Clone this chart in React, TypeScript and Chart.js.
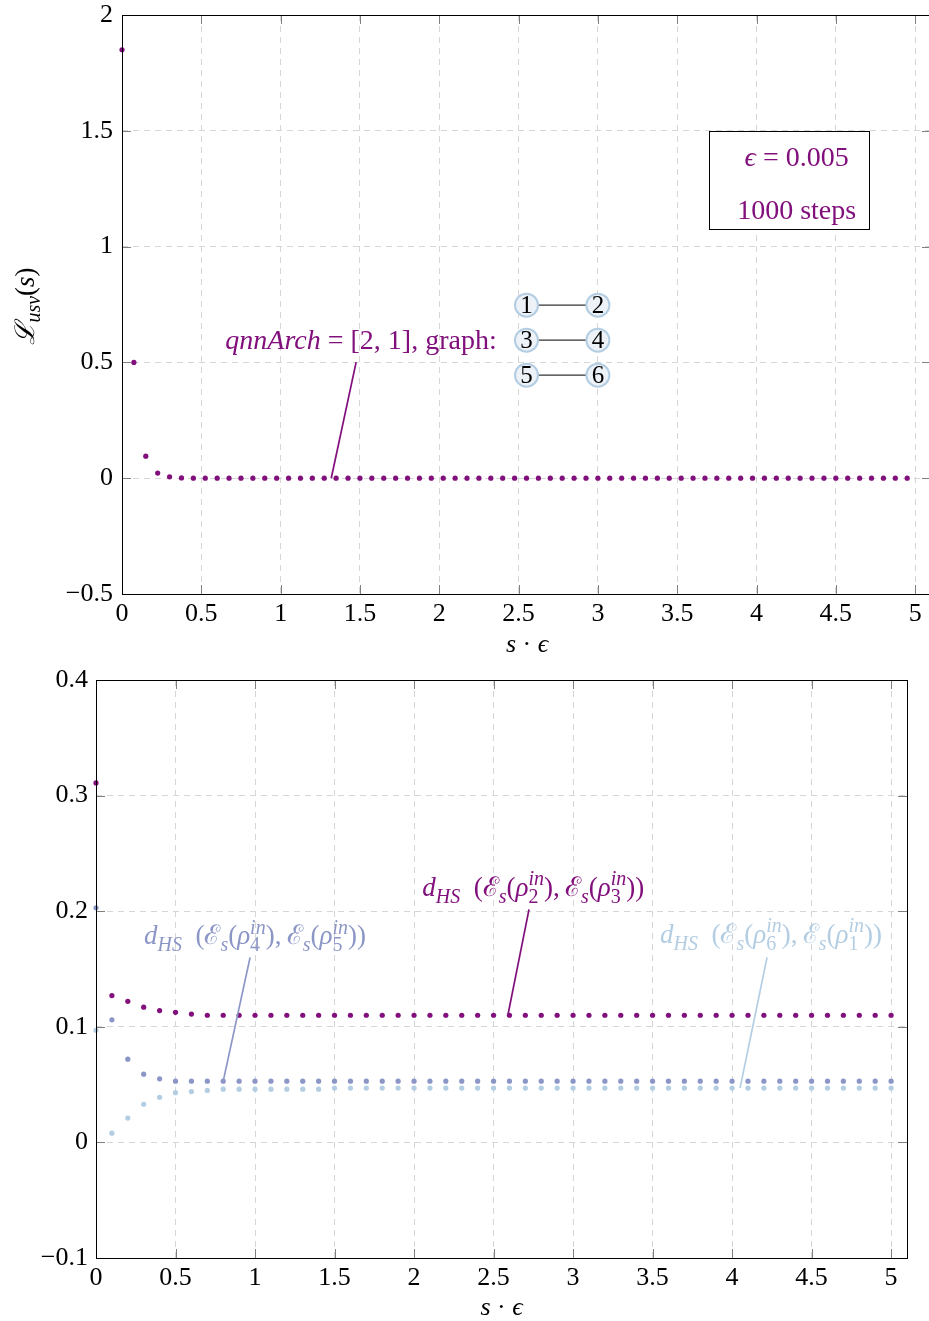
import { useEffect, useRef } from "react";
import { Chart, registerables } from "chart.js";
Chart.register(...registerables);

const PURPLE = "#810f7c";
const MIDBLUE = "#8c96c6";
const LIGHTBLUE = "#b3cde3";
const SERIF = '"Liberation Serif", "DejaVu Serif", serif';

// ---------- data ----------
const topSteps = [
  0, 0.075, 0.15, 0.225, 0.3, 0.375, 0.45, 0.525, 0.6, 0.675, 0.75, 0.825, 0.9, 0.975,
  1.05, 1.125, 1.2, 1.275, 1.35, 1.425, 1.5, 1.575, 1.65, 1.725, 1.8, 1.875, 1.95, 2.025,
  2.1, 2.175, 2.25, 2.325, 2.4, 2.475, 2.55, 2.625, 2.7, 2.775, 2.85, 2.925, 3.0, 3.075,
  3.15, 3.225, 3.3, 3.375, 3.45, 3.525, 3.6, 3.675, 3.75, 3.825, 3.9, 3.975, 4.05, 4.125,
  4.2, 4.275, 4.35, 4.425, 4.5, 4.575, 4.65, 4.725, 4.8, 4.875, 4.95,
];
const topLoss = [
  1.85, 0.5, 0.095, 0.022, 0.006, 0.001, 0, 0, 0, 0, 0, 0, 0, 0,
  0, 0, 0, 0, 0, 0, 0, 0, 0, 0, 0, 0, 0, 0,
  0, 0, 0, 0, 0, 0, 0, 0, 0, 0, 0, 0, 0, 0,
  0, 0, 0, 0, 0, 0, 0, 0, 0, 0, 0, 0, 0, 0,
  0, 0, 0, 0, 0, 0, 0, 0, 0, 0, 0,
];
const topYTicks = [-0.5, 0, 0.5, 1, 1.5, 2];
const xTicks = [0, 0.5, 1, 1.5, 2, 2.5, 3, 3.5, 4, 4.5, 5];

const bottomSteps = [
  0, 0.1, 0.2, 0.3, 0.4, 0.5, 0.6, 0.7, 0.8, 0.9, 1.0, 1.1, 1.2, 1.3, 1.4, 1.5, 1.6,
  1.7, 1.8, 1.9, 2.0, 2.1, 2.2, 2.3, 2.4, 2.5, 2.6, 2.7, 2.8, 2.9, 3.0, 3.1, 3.2, 3.3,
  3.4, 3.5, 3.6, 3.7, 3.8, 3.9, 4.0, 4.1, 4.2, 4.3, 4.4, 4.5, 4.6, 4.7, 4.8, 4.9, 5.0,
];
const dist23 = [
  0.311, 0.127, 0.122, 0.117, 0.114, 0.1125, 0.111, 0.11, 0.11, 0.11, 0.11, 0.11, 0.11,
  0.11, 0.11, 0.11, 0.11, 0.11, 0.11, 0.11, 0.11, 0.11, 0.11, 0.11, 0.11, 0.11, 0.11,
  0.11, 0.11, 0.11, 0.11, 0.11, 0.11, 0.11, 0.11, 0.11, 0.11, 0.11, 0.11, 0.11, 0.11,
  0.11, 0.11, 0.11, 0.11, 0.11, 0.11, 0.11, 0.11, 0.11, 0.11,
];
const dist45 = [
  0.203, 0.106, 0.072, 0.059, 0.055, 0.053, 0.053, 0.053, 0.053, 0.053, 0.053, 0.053, 0.053,
  0.053, 0.053, 0.053, 0.053, 0.053, 0.053, 0.053, 0.053, 0.053, 0.053, 0.053, 0.053, 0.053,
  0.053, 0.053, 0.053, 0.053, 0.053, 0.053, 0.053, 0.053, 0.053, 0.053, 0.053, 0.053, 0.053,
  0.053, 0.053, 0.053, 0.053, 0.053, 0.053, 0.053, 0.053, 0.053, 0.053, 0.053, 0.053,
];
const dist61 = [
  0.097, 0.008, 0.021, 0.033, 0.039, 0.043, 0.044, 0.045, 0.046, 0.046, 0.046, 0.046, 0.046,
  0.046, 0.046, 0.047, 0.047, 0.047, 0.047, 0.047, 0.047, 0.047, 0.047, 0.047, 0.047, 0.047,
  0.047, 0.047, 0.047, 0.047, 0.047, 0.047, 0.047, 0.047, 0.047, 0.047, 0.047, 0.047, 0.047,
  0.047, 0.047, 0.047, 0.047, 0.047, 0.047, 0.047, 0.047, 0.047, 0.047, 0.047, 0.047,
];
const bottomYTicks = [-0.1, 0, 0.1, 0.2, 0.3, 0.4];

// ---------- rich text ----------
type Seg = { t: string; it?: boolean; sc?: number; dy?: number; keep?: boolean };

function drawRich(
  ctx: CanvasRenderingContext2D,
  segs: Seg[],
  x: number,
  yMid: number,
  size: number,
  color: string,
  align: "left" | "center" | "right" = "center"
) {
  const items: { s: Seg; x: number; fs: number }[] = [];
  let cx = 0;
  let pending = 0;
  for (const s of segs) {
    const fs = size * (s.sc ?? 1);
    ctx.font = `${s.it ? "italic " : ""}${fs}px ${SERIF}`;
    const w = ctx.measureText(s.t).width;
    items.push({ s, x: cx, fs });
    if (s.keep) pending = Math.max(pending, w);
    else {
      cx += Math.max(w, pending);
      pending = 0;
    }
  }
  const width = cx;
  const x0 = align === "center" ? x - width / 2 : align === "right" ? x - width : x;
  const base = yMid + size * 0.33;
  ctx.save();
  ctx.fillStyle = color;
  ctx.textBaseline = "alphabetic";
  ctx.textAlign = "left";
  for (const it of items) {
    ctx.font = `${it.s.it ? "italic " : ""}${it.fs}px ${SERIF}`;
    ctx.fillText(it.s.t, x0 + it.x, base + (it.s.dy ?? 0) * size);
  }
  ctx.restore();
}

const SUB = 0.24;
const SUP = -0.4;
const SS = 0.74;
function hsSegs(a: string, b: string): Seg[] {
  return [
    { t: "d", it: true },
    { t: "HS", it: true, sc: SS, dy: SUB },
    { t: "\u2002(" },
    { t: "ℰ" },
    { t: "s", it: true, sc: SS, dy: SUB },
    { t: "(" },
    { t: "ρ", it: true },
    { t: "in", it: true, sc: SS, dy: SUP, keep: true },
    { t: a, sc: SS, dy: SUB },
    { t: "),\u2009" },
    { t: "ℰ" },
    { t: "s", it: true, sc: SS, dy: SUB },
    { t: "(" },
    { t: "ρ", it: true },
    { t: "in", it: true, sc: SS, dy: SUP, keep: true },
    { t: b, sc: SS, dy: SUB },
    { t: "))" },
  ];
}

const fmt = (v: number | string) => String(v).replace("-", "\u2212");
const TICK_FONT = { family: SERIF, size: 26, lineHeight: 1 };
const GRID_COLOR = "#d6d6d6";
const ANN = 27;

function frameAndTicks(chart: any) {
  const { ctx, chartArea: a, scales } = chart;
  const xs = scales.x;
  const ys = scales.y;
  const TL = 9;
  ctx.save();
  ctx.strokeStyle = "#808080";
  ctx.lineWidth = 1;
  ctx.beginPath();
  xs.ticks.forEach((t: any) => {
    const px = Math.round(xs.getPixelForValue(t.value)) + 0.5;
    ctx.moveTo(px, a.bottom);
    ctx.lineTo(px, a.bottom - TL);
    ctx.moveTo(px, a.top);
    ctx.lineTo(px, a.top + TL);
  });
  ys.ticks.forEach((t: any) => {
    const py = Math.round(ys.getPixelForValue(t.value)) + 0.5;
    ctx.moveTo(a.left, py);
    ctx.lineTo(a.left + TL, py);
    ctx.moveTo(a.right, py);
    ctx.lineTo(a.right - TL, py);
  });
  ctx.stroke();
  ctx.strokeStyle = "#000";
  ctx.strokeRect(Math.round(a.left) + 0.5, Math.round(a.top) + 0.5, Math.round(a.right - a.left), Math.round(a.bottom - a.top));
  ctx.restore();
}

function pin(chart: any, x1: number, y1: number, x2: number, y2: number, color: string) {
  const { ctx, scales } = chart;
  ctx.save();
  ctx.strokeStyle = color;
  ctx.lineWidth = 1.7;
  ctx.beginPath();
  ctx.moveTo(scales.x.getPixelForValue(x1), scales.y.getPixelForValue(y1));
  ctx.lineTo(scales.x.getPixelForValue(x2), scales.y.getPixelForValue(y2));
  ctx.stroke();
  ctx.restore();
}

function scaleOpts(min: number, max: number, ticks: number[], size: { w?: number; h?: number }, pad: number) {
  return {
    type: "linear" as const,
    min,
    max,
    afterBuildTicks: (s: any) => {
      s.ticks = ticks.map((v) => ({ value: v }));
    },
    afterFit: (s: any) => {
      if (size.w !== undefined) s.width = size.w;
      if (size.h !== undefined) s.height = size.h;
      s.paddingTop = 0;
      s.paddingBottom = 0;
      s.paddingLeft = 0;
      s.paddingRight = 0;
    },
    grid: { color: GRID_COLOR, drawTicks: false, lineWidth: 1 },
    border: { display: false, dash: [6, 5] },
    ticks: {
      font: TICK_FONT,
      color: "#000",
      padding: pad,
      maxRotation: 0,
      autoSkip: false,
      callback: (v: any) => fmt(v),
    },
  };
}

const topPlugin = {
  id: "topDecor",
  afterDraw(chart: any) {
    const { ctx, scales } = chart;
    const X = (v: number) => scales.x.getPixelForValue(v);
    const Y = (v: number) => scales.y.getPixelForValue(v);
    frameAndTicks(chart);

    // pin line and label
    pin(chart, 1.476, 0.501, 1.319, 0, PURPLE);
    drawRich(ctx, [{ t: "qnnArch", it: true }, { t: " = [2, 1], graph:" }], X(2.362), Y(0.596), 28, PURPLE, "right");

    // graph
    const nx = [2.55, 3.0];
    const ny = [0.747, 0.596, 0.445];
    ctx.save();
    ctx.strokeStyle = "#333";
    ctx.lineWidth = 1.3;
    ny.forEach((y) => {
      ctx.beginPath();
      ctx.moveTo(X(nx[0]), Y(y));
      ctx.lineTo(X(nx[1]), Y(y));
      ctx.stroke();
    });
    let n = 1;
    ny.forEach((y) => {
      nx.forEach((x) => {
        ctx.beginPath();
        ctx.arc(X(x), Y(y), 11.5, 0, Math.PI * 2);
        ctx.fillStyle = "#edf2f8";
        ctx.fill();
        ctx.strokeStyle = LIGHTBLUE;
        ctx.lineWidth = 2;
        ctx.stroke();
        drawRich(ctx, [{ t: String(n) }], X(x), Y(y), 25, "#000", "center");
        n++;
      });
    });
    ctx.restore();

    // legend box
    ctx.save();
    const bx = X(3.7), by = Y(1.498), bw = X(4.711) - X(3.7), bh = Y(1.075) - Y(1.498);
    ctx.fillStyle = "#fff";
    ctx.fillRect(bx, by, bw, bh);
    ctx.strokeStyle = "#000";
    ctx.lineWidth = 1;
    ctx.strokeRect(Math.round(bx) + 0.5, Math.round(by) + 0.5, Math.round(bw), Math.round(bh));
    ctx.restore();
    drawRich(ctx, [{ t: "ϵ", it: true }, { t: " = 0.005" }], X(4.253), Y(1.386), 28, PURPLE, "center");
    drawRich(ctx, [{ t: "1000 steps" }], X(4.253), Y(1.157), 28, PURPLE, "center");

    // axis titles
    const a = chart.chartArea;
    drawRich(ctx, [{ t: "s", it: true }, { t: " · " }, { t: "ϵ", it: true }], 527, 643, 26, "#000", "center");
    ctx.save();
    ctx.translate(25, 306);
    ctx.rotate(-Math.PI / 2);
    drawRich(ctx, [{ t: "ℒ", it: true }, { t: "usv", it: true, sc: SS, dy: SUB }, { t: "(" }, { t: "s", it: true }, { t: ")" }], 0, 0, 27, "#000", "center");
    ctx.restore();
    void a;
  },
};

const bottomPlugin = {
  id: "bottomDecor",
  afterDraw(chart: any) {
    const { ctx, scales } = chart;
    const X = (v: number) => scales.x.getPixelForValue(v);
    const Y = (v: number) => scales.y.getPixelForValue(v);
    frameAndTicks(chart);

    pin(chart, 2.723, 0.2016, 2.59, 0.11, PURPLE);
    pin(chart, 0.969, 0.16, 0.8, 0.053, MIDBLUE);
    pin(chart, 4.22, 0.16, 4.05, 0.047, LIGHTBLUE);
    drawRich(ctx, hsSegs("2", "3"), X(2.75), Y(0.2206), ANN, PURPLE, "center");
    drawRich(ctx, hsSegs("4", "5"), X(1.0), Y(0.179), ANN, MIDBLUE, "center");
    drawRich(ctx, hsSegs("6", "1"), X(4.245), Y(0.18), ANN, LIGHTBLUE, "center");

    const a = chart.chartArea;
    drawRich(ctx, [{ t: "s", it: true }, { t: " · " }, { t: "ϵ", it: true }], (a.left + a.right) / 2, 646, 26, "#000", "center");
  },
};

function pts(xs: number[], ys: number[]) {
  return xs.map((x, i) => ({ x, y: ys[i] }));
}

function TopChart() {
  const ref = useRef<HTMLCanvasElement>(null);
  useEffect(() => {
    const chart = new Chart(ref.current!, {
      type: "scatter",
      data: {
        datasets: [
          {
            data: pts(topSteps, topLoss),
            backgroundColor: PURPLE,
            borderWidth: 0,
            pointRadius: 2.6,
            showLine: false,
            clip: false as any,
          },
        ],
      },
      options: {
        animation: false,
        responsive: false,
        devicePixelRatio: 1,
        layout: { padding: { top: 15, right: 1, left: 0, bottom: 0 } },
        plugins: { legend: { display: false }, tooltip: { enabled: false } },
        scales: {
          x: scaleOpts(0, 5.1, xTicks, { h: 66 }, 7) as any,
          y: scaleOpts(-0.5, 2, topYTicks, { w: 122 }, 9) as any,
        },
      },
      plugins: [topPlugin],
    });
    return () => chart.destroy();
  }, []);
  return <canvas ref={ref} width={935} height={660} style={{ display: "block", width: 935, height: 660 }} />;
}

function BottomChart() {
  const ref = useRef<HTMLCanvasElement>(null);
  useEffect(() => {
    const mk = (ys: number[], color: string) => ({
      data: pts(bottomSteps, ys),
      backgroundColor: color,
      borderWidth: 0,
      pointRadius: 2.6,
      showLine: false,
      clip: false as any,
    });
    const chart = new Chart(ref.current!, {
      type: "scatter",
      data: {
        datasets: [mk(dist61, LIGHTBLUE), mk(dist45, MIDBLUE), mk(dist23, PURPLE)],
      },
      options: {
        animation: false,
        responsive: false,
        devicePixelRatio: 1,
        layout: { padding: { top: 20, right: 22, left: 0, bottom: 0 } },
        plugins: { legend: { display: false }, tooltip: { enabled: false } },
        scales: {
          x: scaleOpts(0, 5.1, xTicks, { h: 63 }, 7) as any,
          y: scaleOpts(-0.1, 0.4, bottomYTicks, { w: 96 }, 8) as any,
        },
      },
      plugins: [bottomPlugin],
    });
    return () => chart.destroy();
  }, []);
  return <canvas ref={ref} width={929} height={661} style={{ display: "block", width: 929, height: 661 }} />;
}

export default function App() {
  return (
    <div style={{ position: "absolute", left: 0, top: 0, width: 929, height: 1321, overflow: "hidden", background: "#fff" }}>
      <div style={{ position: "absolute", left: 0, top: 0, width: 929, height: 660, overflow: "hidden" }}>
        <TopChart />
      </div>
      <div style={{ position: "absolute", left: 0, top: 660, width: 929, height: 661 }}>
        <BottomChart />
      </div>
    </div>
  );
}
